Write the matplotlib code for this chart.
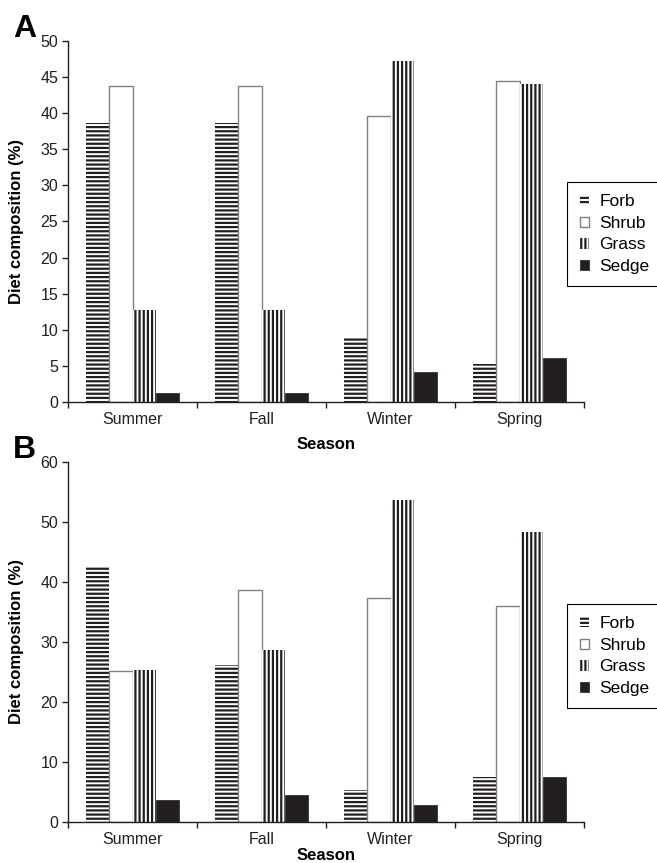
import matplotlib.pyplot as plt
import numpy as np

plt.rcParams['font.family'] = ['Liberation Sans', 'DejaVu Sans']
plt.rcParams['hatch.linewidth'] = 1.6

seasons = ['Summer', 'Fall', 'Winter', 'Spring']
groups = ['Forb', 'Shrub', 'Grass', 'Sedge']

# panel A values (%)
a_forb = [38.7, 38.7, 8.8, 5.2]
a_shrub = [43.8, 43.8, 39.6, 44.4]
a_grass = [12.7, 12.7, 47.2, 44.0]
a_sedge = [1.3, 1.3, 4.2, 6.1]

# panel B values (%)
b_forb = [42.5, 26.2, 5.3, 7.6]
b_shrub = [25.2, 38.7, 37.4, 36.0]
b_grass = [25.4, 28.7, 53.7, 48.3]
b_sedge = [3.7, 4.5, 2.8, 7.5]

dark = '#231f20'
styles = {'Forb': dict(color='white', edgecolor=dark, hatch='----', linewidth=0),
          'Shrub': dict(color='white', edgecolor='#808080', linewidth=1.0),
          'Grass': dict(color='white', edgecolor=dark, hatch='||||', linewidth=0),
          'Sedge': dict(color=dark, edgecolor=dark, linewidth=0.5)}

fig = plt.figure(figsize=(6.57, 8.63), dpi=100)
ax_a = fig.add_axes([0.1035, 0.5342, 0.7854, 0.4183])
ax_b = fig.add_axes([0.1035, 0.0472, 0.7854, 0.4178])


def draw(ax, data, ymax, ystep, letter, leg_y, season_y):
    x = np.arange(len(seasons))
    w = 0.18
    for i, (name, vals) in enumerate(zip(groups, data)):
        ax.bar(x + (i - 1.5) * w, vals, w, label=name, **styles[name])
    ax.set_xlim(-0.5, 3.5)
    ax.set_ylim(0, ymax)
    ax.set_yticks(np.arange(0, ymax + 1, ystep))
    ax.set_xticks([-0.5, 0.5, 1.5, 2.5, 3.5])
    ax.set_xticklabels([])
    ax.set_xticks(x, minor=True)
    ax.set_xticklabels(seasons, minor=True)
    ax.tick_params(axis='x', which='minor', length=0, pad=7, labelsize=11.5, colors=dark)
    ax.tick_params(axis='x', which='major', length=4, width=1, color=dark)
    ax.tick_params(axis='y', length=4, width=1, labelsize=11.5, colors=dark, pad=3)
    for s in ['top', 'right']:
        ax.spines[s].set_visible(False)
    for s in ['left', 'bottom']:
        ax.spines[s].set_color(dark)
        ax.spines[s].set_linewidth(1)
    ax.set_ylabel('Diet composition (%)', fontsize=12, fontweight='bold')
    ax.yaxis.set_label_coords(-0.085, 0.5)
    ax.set_xlabel('Season', fontsize=12, fontweight='bold')
    ax.xaxis.set_label_coords(0.5, season_y)
    ax.text(-0.106, 1.01, letter, transform=ax.transAxes, fontsize=23,
            fontweight='bold', ha='left', va='baseline')
    leg = ax.legend(loc='upper left', bbox_to_anchor=(0.968, leg_y), borderaxespad=0,
                    fontsize=12.5, handlelength=0.55, handleheight=0.55, handletextpad=0.6,
                    labelspacing=0.38, fancybox=False, framealpha=1, edgecolor='black',
                    borderpad=0.7)
    leg.get_frame().set_linewidth(0.8)


draw(ax_a, [a_forb, a_shrub, a_grass, a_sedge], 50, 5, 'A', 0.609, -0.097)
draw(ax_b, [b_forb, b_shrub, b_grass, b_sedge], 60, 10, 'B', 0.605, -0.072)

fig.savefig('out.png', dpi=100)
